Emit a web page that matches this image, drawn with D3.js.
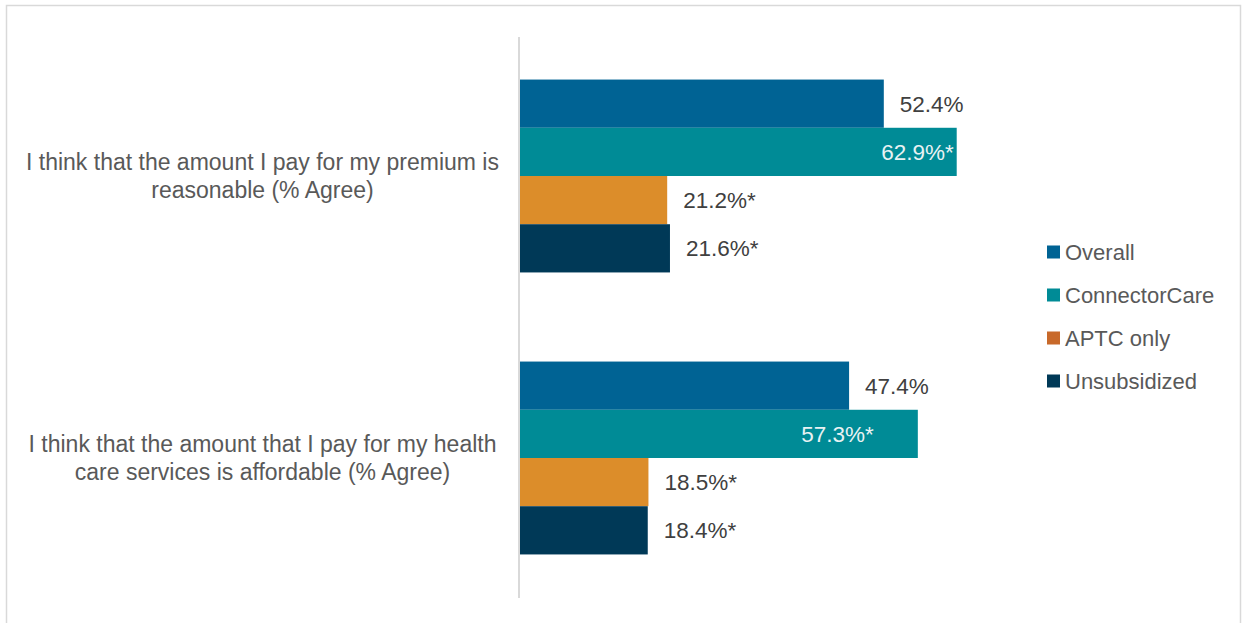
<!DOCTYPE html>
<html lang="en">
<head>
  <meta charset="UTF-8">
  <title>Premium and cost affordability</title>
  <script src="https://d3js.org/d3.v7.min.js"></script>
  <style>
    body { margin: 0; background: #fff; }
    svg text { font-family: "Liberation Sans", Arial, sans-serif; }
  </style>
</head>
<body>
  <div id="viz"></div>
  <script>
    // chart data
    var questions = [
      ["I think that the amount I pay for my premium is", "reasonable (% Agree)"],
      ["I think that the amount that I pay for my health", "care services is affordable (% Agree)"]
    ];
    var seriesNames = ["Overall", "ConnectorCare", "APTC only", "Unsubsidized"];
    var overall = [52.4, 47.4];
    var connectorCare = [62.9, 57.3];
    var aptcOnly = [21.2, 18.5];
    var unsubsidized = [21.6, 18.4];
    var valueLabels = [
      ["52.4%", "62.9%*", "21.2%*", "21.6%*"],
      ["47.4%", "57.3%*", "18.5%*", "18.4%*"]
    ];

    var width = 1244;
    var height = 623;

    var barColors = ["#006394", "#008b96", "#dc8d2a", "#003957"];
    var legendColors = ["#006394", "#008b96", "#c8692a", "#003957"];

    var svg = d3.select("#viz").append("svg")
      .attr("width", width)
      .attr("height", height);

    // outer frame
    svg.append("rect")
      .attr("x", 6.5)
      .attr("y", 5.5)
      .attr("width", 1234)
      .attr("height", 640)
      .attr("fill", "none")
      .attr("stroke", "#d9d9d9")
      .attr("stroke-width", 1.5);

    var x = d3.scaleLinear().domain([0, 70]).range([520, 520 + 486]);

    var y = d3.scaleBand()
      .domain(d3.range(questions.length))
      .range([35, 599])
      .paddingInner(0.316)
      .paddingOuter(0.158);

    var inner = d3.scaleBand()
      .domain(d3.range(seriesNames.length))
      .range([0, y.bandwidth()]);

    var rows = [];
    questions.forEach(function(q, i) {
      [overall, connectorCare, aptcOnly, unsubsidized].forEach(function(s, j) {
        rows.push({ q: i, s: j, value: s[i], label: valueLabels[i][j] });
      });
    });

    // bars
    svg.append("g").selectAll("rect")
      .data(rows)
      .enter().append("rect")
      .attr("x", x(0))
      .attr("y", function(d) { return y(d.q) + inner(d.s); })
      .attr("width", function(d) { return x(d.value) - x(0); })
      .attr("height", inner.bandwidth())
      .attr("fill", function(d) { return barColors[d.s]; });

    // value labels (ConnectorCare sits inside the bar)
    svg.append("g").selectAll("text")
      .data(rows)
      .enter().append("text")
      .attr("x", function(d) {
        if (d.s === 1) return x(d.value) - (d.q === 0 ? 3 : 44);
        return x(d.value) + 16;
      })
      .attr("y", function(d) { return y(d.q) + inner(d.s) + inner.bandwidth() / 2; })
      .attr("dy", "0.36em")
      .attr("text-anchor", function(d) { return d.s === 1 ? "end" : "start"; })
      .attr("fill", function(d) { return d.s === 1 ? "#e8f2f3" : "#404040"; })
      .style("font-size", "22.5px")
      .text(function(d) { return d.label; });

    // vertical axis line
    svg.append("line")
      .attr("x1", x(0) - 1)
      .attr("x2", x(0) - 1)
      .attr("y1", 37)
      .attr("y2", 598)
      .attr("stroke", "#d9d9d9")
      .attr("stroke-width", 2);

    // category labels
    var cats = svg.append("g").selectAll("text")
      .data(questions)
      .enter().append("text")
      .attr("x", 262.5)
      .attr("y", function(d, i) { return y(i) + y.bandwidth() / 2; })
      .attr("text-anchor", "middle")
      .attr("fill", "#595959")
      .style("font-size", "23px");
    cats.selectAll("tspan")
      .data(function(d) { return d; })
      .enter().append("tspan")
      .attr("x", 262.5)
      .attr("dy", function(d, k) { return k === 0 ? "-0.25em" : "1.2em"; })
      .text(function(d) { return d; });

    // legend
    var legend = svg.append("g").selectAll("g")
      .data(seriesNames)
      .enter().append("g")
      .attr("transform", function(d, i) { return "translate(1047," + (252 + i * 43) + ")"; });
    legend.append("rect")
      .attr("x", 0)
      .attr("y", -6.5)
      .attr("width", 13)
      .attr("height", 13)
      .attr("fill", function(d, i) { return legendColors[i]; });
    legend.append("text")
      .attr("x", 18)
      .attr("dy", "0.36em")
      .attr("fill", "#595959")
      .style("font-size", "22px")
      .text(function(d) { return d; });
  </script>
</body>
</html>
